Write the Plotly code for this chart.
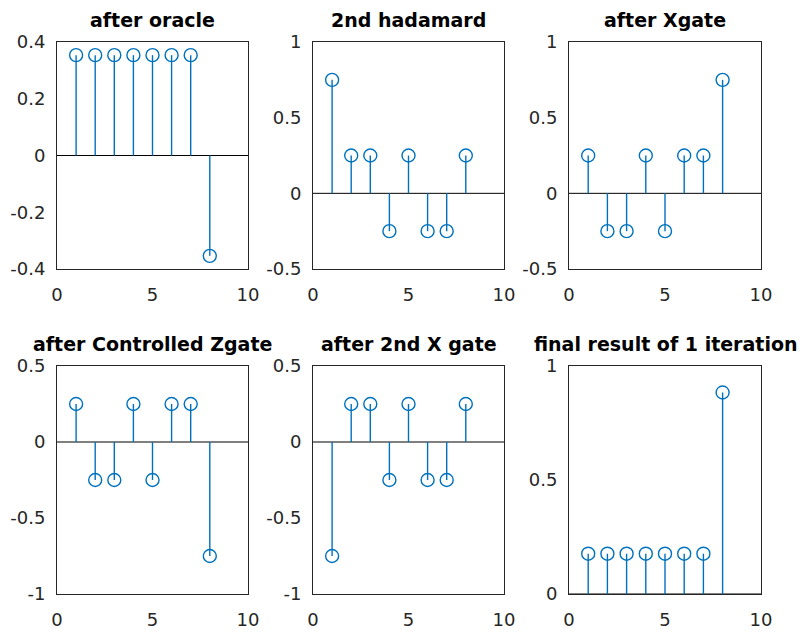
import plotly.graph_objects as go

# State index 1..8 and amplitudes at each stage of one Grover iteration
idx = [1, 2, 3, 4, 5, 6, 7, 8]

titles = [
    "after oracle",
    "2nd hadamard",
    "after Xgate",
    "after Controlled Zgate",
    "after 2nd X gate",
    "final result of 1 iteration",
]

after_oracle = [0.3536, 0.3536, 0.3536, 0.3536, 0.3536, 0.3536, 0.3536, -0.3536]
second_hadamard = [0.75, 0.25, 0.25, -0.25, 0.25, -0.25, -0.25, 0.25]
after_xgate = [0.25, -0.25, -0.25, 0.25, -0.25, 0.25, 0.25, 0.75]
after_cz = [0.25, -0.25, -0.25, 0.25, -0.25, 0.25, 0.25, -0.75]
after_2nd_x = [-0.75, 0.25, 0.25, -0.25, 0.25, -0.25, -0.25, 0.25]
final_result = [0.1768, 0.1768, 0.1768, 0.1768, 0.1768, 0.1768, 0.1768, 0.8839]

series = [after_oracle, second_hadamard, after_xgate, after_cz, after_2nd_x, final_result]

y_ranges = [[-0.4, 0.4], [-0.5, 1], [-0.5, 1], [-1, 0.5], [-1, 0.5], [0, 1]]
y_ticks = [
    [-0.4, -0.2, 0, 0.2, 0.4],
    [-0.5, 0, 0.5, 1],
    [-0.5, 0, 0.5, 1],
    [-1, -0.5, 0, 0.5],
    [-1, -0.5, 0, 0.5],
    [0, 0.5, 1],
]
y_ticktext = [
    ["-0.4", "-0.2", "0", "0.2", "0.4"],
    ["-0.5", "0", "0.5", "1"],
    ["-0.5", "0", "0.5", "1"],
    ["-1", "-0.5", "0", "0.5"],
    ["-1", "-0.5", "0", "0.5"],
    ["0", "0.5", "1"],
]
x_ticks = [0, 5, 10]

W, H = 807, 633
col_px = [(57, 248), (313, 504), (569, 761)]
row_px = [(42, 269), (366, 594)]

STEM = "#0072BD"
AXC = "#262626"
FONT = "DejaVu Sans, Arial, Helvetica, sans-serif"

fig = go.Figure()
layout = {}

for k, (vals, title) in enumerate(zip(series, titles)):
    r, c = divmod(k, 3)
    n = "" if k == 0 else str(k + 1)
    xa, ya = "x" + n, "y" + n
    x0, x1 = col_px[c]
    t0, t1 = row_px[r]
    xdom = [x0 / W, x1 / W]
    ydom = [1 - t1 / H, 1 - t0 / H]

    # baseline at zero across the full x range
    fig.add_trace(go.Scatter(
        x=[0, 10], y=[0, 0], mode="lines",
        line=dict(color="black", width=1),
        xaxis=xa, yaxis=ya, showlegend=False, hoverinfo="skip",
    ))
    # stems
    sx, sy = [], []
    for xi, yi in zip(idx, vals):
        sx += [xi, xi, None]
        sy += [0, yi, None]
    fig.add_trace(go.Scatter(
        x=sx, y=sy, mode="lines",
        line=dict(color=STEM, width=1.4),
        xaxis=xa, yaxis=ya, showlegend=False, hoverinfo="skip",
    ))
    # open circle markers
    fig.add_trace(go.Scatter(
        x=idx, y=vals, mode="markers",
        marker=dict(symbol="circle-open", size=13, color=STEM, line=dict(width=1.4, color=STEM)),
        xaxis=xa, yaxis=ya, showlegend=False,
    ))

    layout["xaxis" + n] = dict(
        domain=xdom, range=[0, 10], anchor=ya, automargin=False,
        tickvals=x_ticks, ticktext=["0", "5", "10"],
        showgrid=False, zeroline=False, ticks="", ticklabelstandoff=9,
        showline=True, mirror=True, linecolor=AXC, linewidth=1,
        tickfont=dict(family=FONT, size=18, color=AXC),
    )
    layout["yaxis" + n] = dict(
        domain=ydom, range=y_ranges[k], anchor=xa, automargin=False,
        tickvals=y_ticks[k], ticktext=y_ticktext[k],
        showgrid=False, zeroline=False, ticks="", ticklabelstandoff=7,
        showline=True, mirror=True, linecolor=AXC, linewidth=1,
        tickfont=dict(family=FONT, size=18, color=AXC),
    )
    fig.add_annotation(
        text="<b>" + title + "</b>",
        x=(xdom[0] + xdom[1]) / 2, y=ydom[1],
        xref="paper", yref="paper", xanchor="center", yanchor="bottom",
        yshift=9, showarrow=False,
        font=dict(family=FONT, size=19, color="black"),
    )

fig.update_layout(
    width=W, height=H,
    margin=dict(l=0, r=0, t=0, b=0, autoexpand=False),
    paper_bgcolor="white", plot_bgcolor="white",
    **layout,
)

fig.write_html("out.html")
